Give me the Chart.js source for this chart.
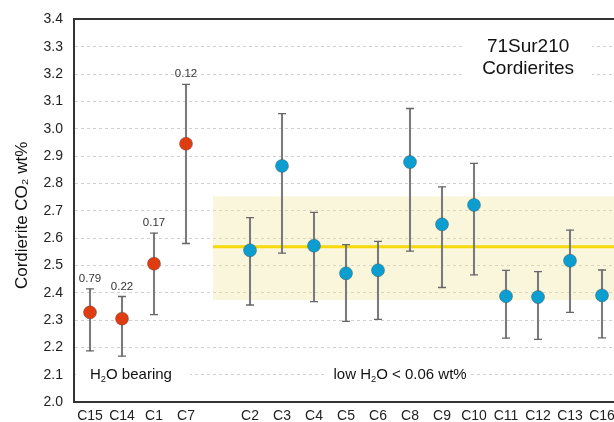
<!DOCTYPE html>
<html><head><meta charset="utf-8">
<script src="https://cdn.jsdelivr.net/npm/chart.js@4"></script>
<style>
html,body{margin:0;padding:0;overflow:hidden;background:#fff}
#wrap{width:614px;height:422px;overflow:hidden;position:relative}
canvas{display:block}
</style></head>
<body><div id="wrap"><canvas id="c" width="640" height="422"></canvas></div>
<script>
// ---- data ----
const tickLabels = ['C15','C14','C1','C7','','C2','C3','C4','C5','C6','C8','C9','C10','C11','C12','C13','C16'];
const samples    = ['C15','C14','C1','C7','C2','C3','C4','C5','C6','C8','C9','C10','C11','C12','C13','C16'];
const h2oBearing = ['C15','C14','C1','C7'];
const co2        = [2.328,2.305,2.506,2.945,2.555,2.864,2.572,2.471,2.482,2.878,2.650,2.721,2.387,2.384,2.517,2.390];
const co2High    = [2.414,2.386,2.618,3.162,2.675,3.055,2.694,2.576,2.588,3.074,2.787,2.873,2.482,2.477,2.629,2.483];
const co2Low     = [2.187,2.168,2.320,2.580,2.355,2.545,2.367,2.295,2.302,2.552,2.419,2.465,2.234,2.229,2.328,2.235];
const h2oLabels  = ['0.79','0.22','0.17','0.12'];
const meanCO2 = 2.568, bandLow = 2.373, bandHigh = 2.753;
const yMin = 2.0, yMax = 3.4, yStep = 0.1;

const RED = '#e03c12', BLUE = '#0b9fd1';
const FONT = "'Liberation Sans', Arial, sans-serif";
const xOf = s => tickLabels.indexOf(s);
const xMin = -0.5, xMax = tickLabels.length - 0.5;
const bandStart = xOf('') - 0.16;

const pts  = samples.map((s,i)=>({x:xOf(s), y:co2[i]}));
const bars = samples.map((s,i)=>({x:xOf(s), y:[co2Low[i], co2High[i]]}));
const caps = samples.flatMap((s,i)=>[{x:xOf(s), y:co2Low[i]},{x:xOf(s), y:co2High[i]}]);
const ptColors = samples.map(s => h2oBearing.includes(s) ? RED : BLUE);

function richText(ctx, parts, cx, cy, size, color){
  const sub = size*0.62;
  let w = 0;
  for (const p of parts){ ctx.font = (p.sub?sub:size)+'px '+FONT; w += ctx.measureText(p.t).width; }
  let x = cx - w/2;
  const base = cy + size*0.35;
  ctx.fillStyle = color; ctx.textAlign='left'; ctx.textBaseline='alphabetic';
  for (const p of parts){
    ctx.font = (p.sub?sub:size)+'px '+FONT;
    ctx.fillText(p.t, x, p.sub ? base + size*0.2 : base);
    x += ctx.measureText(p.t).width;
  }
}

const annot = {
  id:'annot',
  beforeDatasetsDraw(chart){
    const {ctx, scales:{x,y}} = chart;
    ctx.save();
    ctx.fillStyle = '#fff';
    const boxes = [[11.72,15.69,3.335,3.165],[-0.44,3.12,2.13,2.07],[7.34,11.88,2.13,2.07]];
    for (const [a,b,t,u] of boxes){
      const x0=x.getPixelForValue(a), x1=x.getPixelForValue(b), y0=y.getPixelForValue(t), y1=y.getPixelForValue(u);
      ctx.fillRect(x0,y0,x1-x0,y1-y0);
    }
    richText(ctx,[{t:'71Sur210'}], x.getPixelForValue(13.69), y.getPixelForValue(3.304), 19, '#111');
    richText(ctx,[{t:'Cordierites'}], x.getPixelForValue(13.69), y.getPixelForValue(3.224), 19, '#111');
    richText(ctx,[{t:'H'},{t:'2',sub:true},{t:'O bearing'}], x.getPixelForValue(1.28), y.getPixelForValue(2.103), 15, '#111');
    richText(ctx,[{t:'low H'},{t:'2',sub:true},{t:'O < 0.06 wt%'}], x.getPixelForValue(9.69), y.getPixelForValue(2.103), 15, '#111');
    ctx.restore();
  },
  afterDatasetsDraw(chart){
    const {ctx, scales:{x,y}} = chart;
    ctx.save();
    h2oLabels.forEach((lab,i)=>{
      richText(ctx,[{t:lab}], x.getPixelForValue(xOf(samples[i])), y.getPixelForValue(co2High[i]) - 11, 11.5, '#333');
    });
    ctx.restore();
  }
};

new Chart(document.getElementById('c'), {
  type:'scatter',
  data:{ datasets:[
    {type:'scatter', data:pts, pointRadius:6.5, pointHoverRadius:6.5, backgroundColor:ptColors, borderColor:'rgba(70,70,70,0.5)', borderWidth:0.8, order:0},
    {type:'scatter', data:caps, pointStyle:'line', pointRadius:4, pointHoverRadius:4, borderColor:'#666', borderWidth:1.3, order:1},
    {type:'bar', data:bars, barThickness:1.4, backgroundColor:'#7a7a7a', borderWidth:0, order:2},
    {type:'line', data:[{x:bandStart,y:meanCO2},{x:xMax,y:meanCO2}], borderColor:'#f5d90a', borderWidth:3, pointRadius:0, fill:false, order:3},
    {type:'line', data:[{x:bandStart,y:bandHigh},{x:xMax,y:bandHigh}], borderWidth:0, borderColor:'rgba(0,0,0,0)', pointRadius:0, fill:'+1', backgroundColor:'rgba(238,228,145,0.32)', order:4},
    {type:'line', data:[{x:bandStart,y:bandLow},{x:xMax,y:bandLow}], borderWidth:0, borderColor:'rgba(0,0,0,0)', pointRadius:0, fill:false, order:5}
  ]},
  options:{
    responsive:false, animation:false, devicePixelRatio:1,
    layout:{padding:{top:15,right:22,left:0,bottom:0}},
    plugins:{legend:{display:false}, tooltip:{enabled:false}},
    scales:{
      x:{type:'linear', min:xMin, max:xMax, offset:false,
        afterBuildTicks:s=>{ s.ticks = tickLabels.map((_,i)=>({value:i})); },
        afterFit:s=>{ s.height = 20; },
        ticks:{callback:v=>tickLabels[v] ?? '', autoSkip:false, maxRotation:0, padding:6, color:'#222', font:{family:FONT,size:14}},
        grid:{display:true, color:'rgba(0,0,0,0)', drawTicks:false},
        border:{display:true, color:'#333', width:2}
      },
      x2:{type:'linear', position:'top', min:xMin, max:xMax,
        ticks:{display:false}, grid:{display:true, color:'rgba(0,0,0,0)', drawTicks:false},
        border:{display:true, color:'#333', width:2}
      },
      y:{type:'linear', min:yMin, max:yMax,
        afterFit:s=>{ s.width = 74; },
        ticks:{stepSize:yStep, padding:11, color:'#222', font:{family:FONT,size:14}, callback:v=>v.toFixed(1)},
        grid:{drawTicks:false, color:c=> (Math.abs(c.tick.value-yMin)<1e-6 || Math.abs(c.tick.value-yMax)<1e-6) ? 'rgba(0,0,0,0)' : '#d0d0d0', lineWidth:1},
        border:{display:true, color:'#333', width:2, dash:[3,3]},
        title:{display:true, text:'Cordierite CO₂ wt%  ', color:'#111', font:{family:FONT,size:17}, padding:{top:12,bottom:0}}
      }
    }
  },
  plugins:[annot]
});
</script></body></html>
